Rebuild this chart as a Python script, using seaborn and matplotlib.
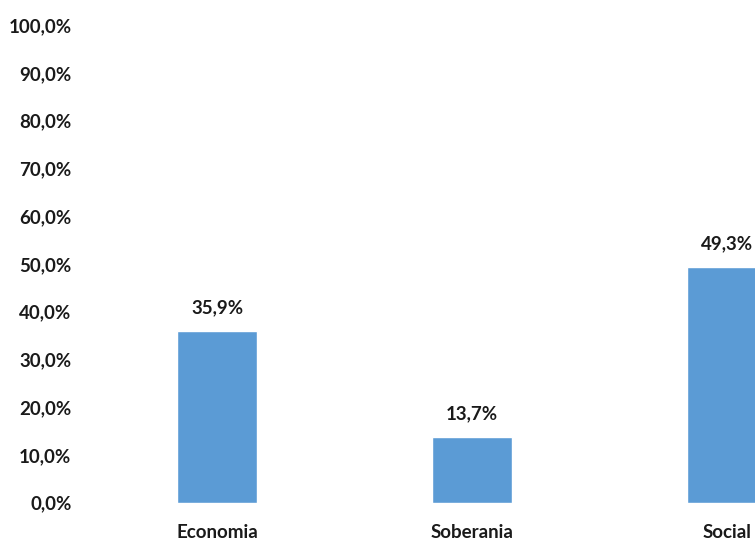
import matplotlib
matplotlib.use("Agg")
import matplotlib.pyplot as plt
import seaborn as sns
import pandas as pd

# dados
categorias = ["Economia", "Soberania", "Social"]
valores = [35.9, 13.7, 49.3]
rotulos = ["35,9%", "13,7%", "49,3%"]
yticks = [0, 10, 20, 30, 40, 50, 60, 70, 80, 90, 100]
ytick_labels = [f"{v:.1f}%".replace(".", ",") for v in yticks]

sns.set_theme(style="white")
plt.rcParams["font.family"] = ["Lato", "DejaVu Sans"]
plt.rcParams["font.weight"] = "bold"

df = pd.DataFrame({"categoria": categorias, "valor": valores})

fig = plt.figure(figsize=(7.55, 5.43), dpi=100)
# eixo vai até a borda direita; a última barra fica cortada como no original
ax = fig.add_axes([89.5 / 755, 40.3 / 543, (755 - 89.5) / 755, 477.5 / 543])

sns.barplot(data=df, x="categoria", y="valor", color="#5B9BD5",
            width=80 / 255, saturation=1, ax=ax)

ax.set_xlim(-0.5, (755 - 89.5) / 255 - 0.5)
ax.set_ylim(0, 100)
ax.set_yticks(yticks)
ax.set_yticklabels(ytick_labels, fontsize=13.5, fontweight="bold", color="#1a1a1a")
ax.tick_params(axis="y", length=0, pad=13)
ax.tick_params(axis="x", length=0, pad=15)
for lab in ax.get_xticklabels():
    lab.set_fontsize(13.5)
    lab.set_fontweight("bold")
    lab.set_color("#1a1a1a")
ax.set_xlabel("")
ax.set_ylabel("")
sns.despine(ax=ax, left=True, bottom=True)

for i, (v, r) in enumerate(zip(valores, rotulos)):
    ax.annotate(r, (i, v), xytext=(0, 24), textcoords="offset pixels",
                ha="center", va="center", fontsize=13.5, fontweight="bold",
                color="#1a1a1a", annotation_clip=False)

fig.savefig("out.png", dpi=100)
